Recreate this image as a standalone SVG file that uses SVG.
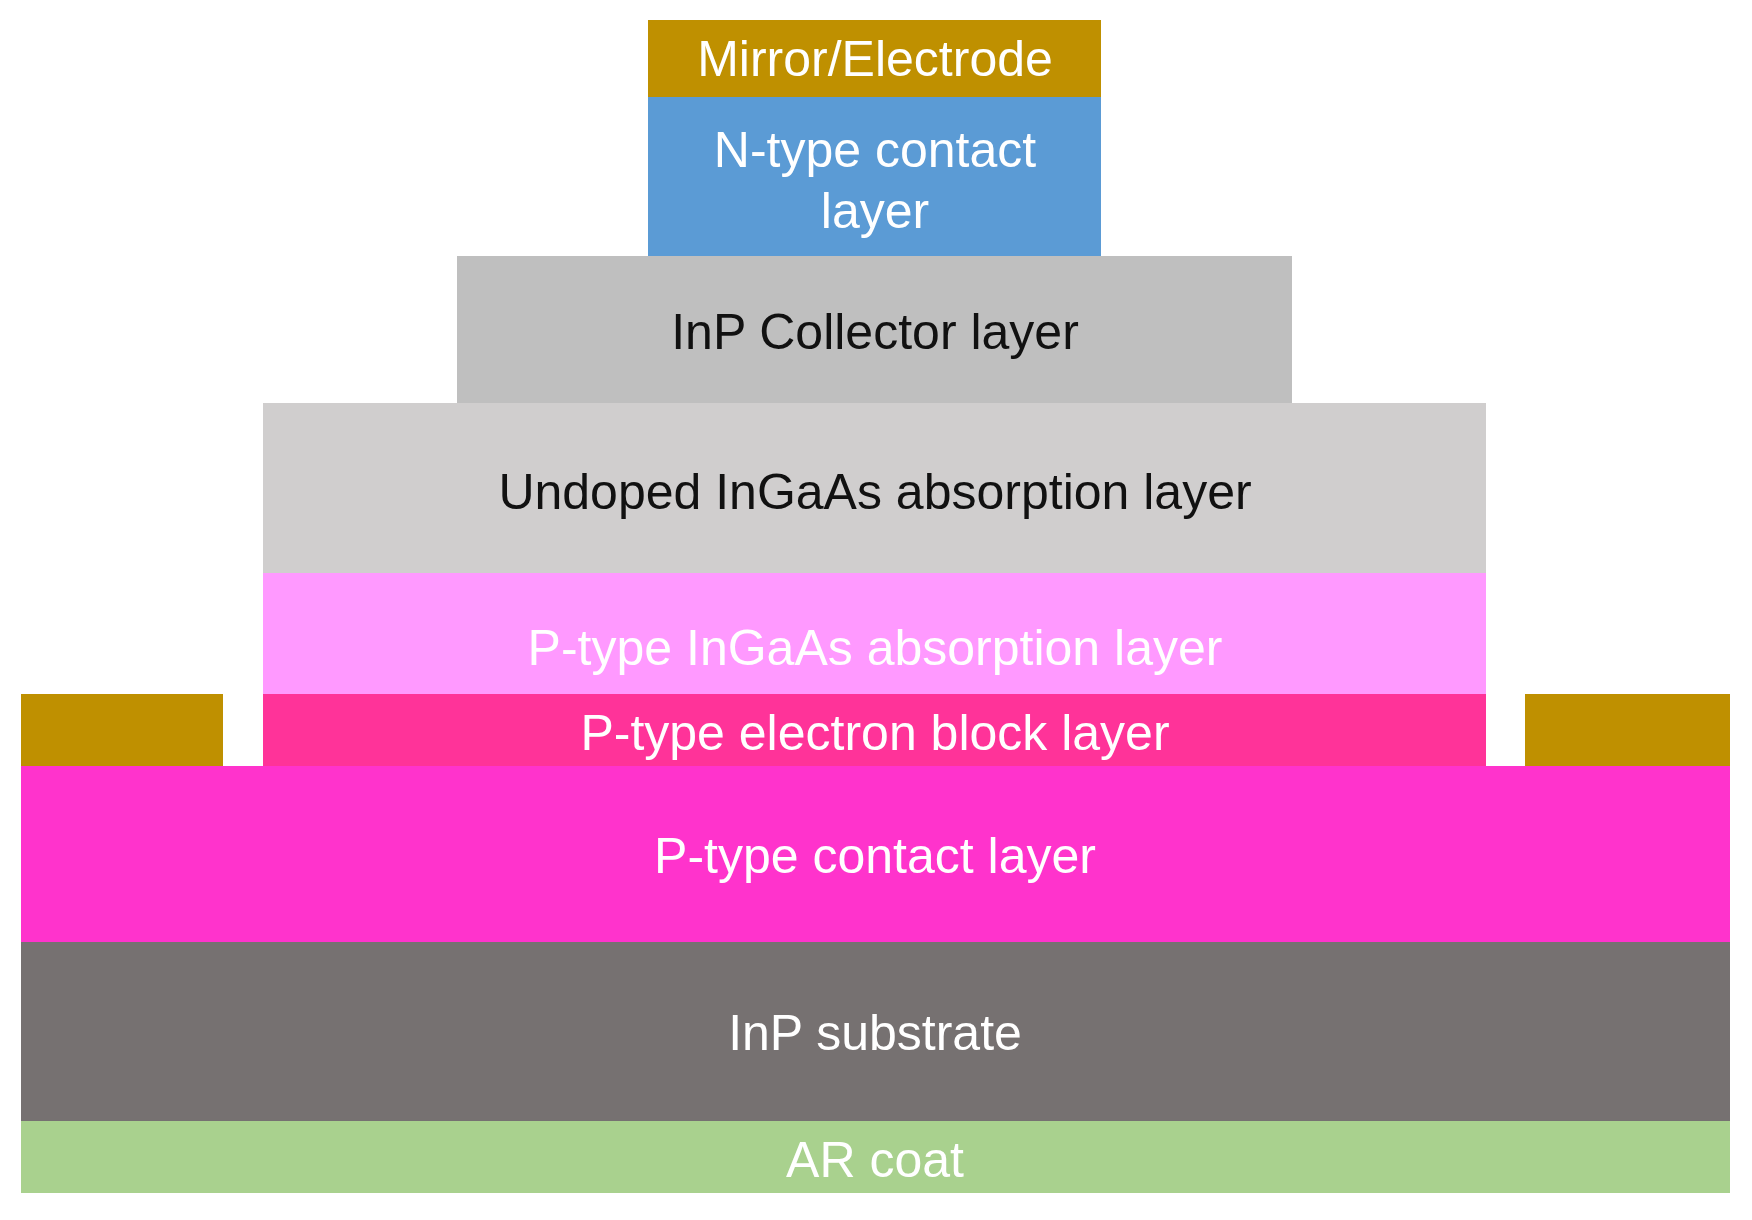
<svg xmlns="http://www.w3.org/2000/svg" width="1752" height="1220" viewBox="0 0 1752 1220">
<style>
text{font-family:"Liberation Sans",Arial,sans-serif;font-size:50px;text-anchor:middle;dominant-baseline:central}
.w{fill:#fff}.k{fill:#111}
</style>
<rect width="1752" height="1220" fill="#fff"/>
<g id="mirror"><rect x="648" y="20" width="453" height="77" fill="#BF9000"/><text class="w" x="875" y="59">Mirror/Electrode</text></g>
<g id="ncontact"><rect x="648" y="97" width="453" height="159" fill="#5B9BD5"/><text class="w" x="875" y="150">N-type contact</text><text class="w" x="875" y="211">layer</text></g>
<g id="collector"><rect x="457" y="256" width="835" height="147" fill="#BFBFBF"/><text class="k" x="875" y="332">InP Collector layer</text></g>
<g id="undoped"><rect x="263" y="403" width="1223" height="170" fill="#D0CECE"/><text class="k" x="875" y="492">Undoped InGaAs absorption layer</text></g>
<g id="ptype-abs"><rect x="263" y="573" width="1223" height="121" fill="#FF99FF"/><text class="w" x="875" y="648">P-type InGaAs absorption layer</text></g>
<g id="eblock"><rect x="263" y="694" width="1223" height="72" fill="#FF3399"/><text class="w" x="875" y="733">P-type electron block layer</text></g>
<g id="pad-left"><rect x="21" y="694" width="202" height="72" fill="#BF9000"/></g>
<g id="pad-right"><rect x="1525" y="694" width="205" height="72" fill="#BF9000"/></g>
<g id="pcontact"><rect x="21" y="766" width="1709" height="176" fill="#FF33CC"/><text class="w" x="875" y="856">P-type contact layer</text></g>
<g id="substrate"><rect x="21" y="942" width="1709" height="179" fill="#767171"/><text class="w" x="875" y="1033">InP substrate</text></g>
<g id="arcoat"><rect x="21" y="1121" width="1709" height="72" fill="#A9D18E"/><text class="w" x="875" y="1160">AR coat</text></g>
<g id="connectors"/>
</svg>
